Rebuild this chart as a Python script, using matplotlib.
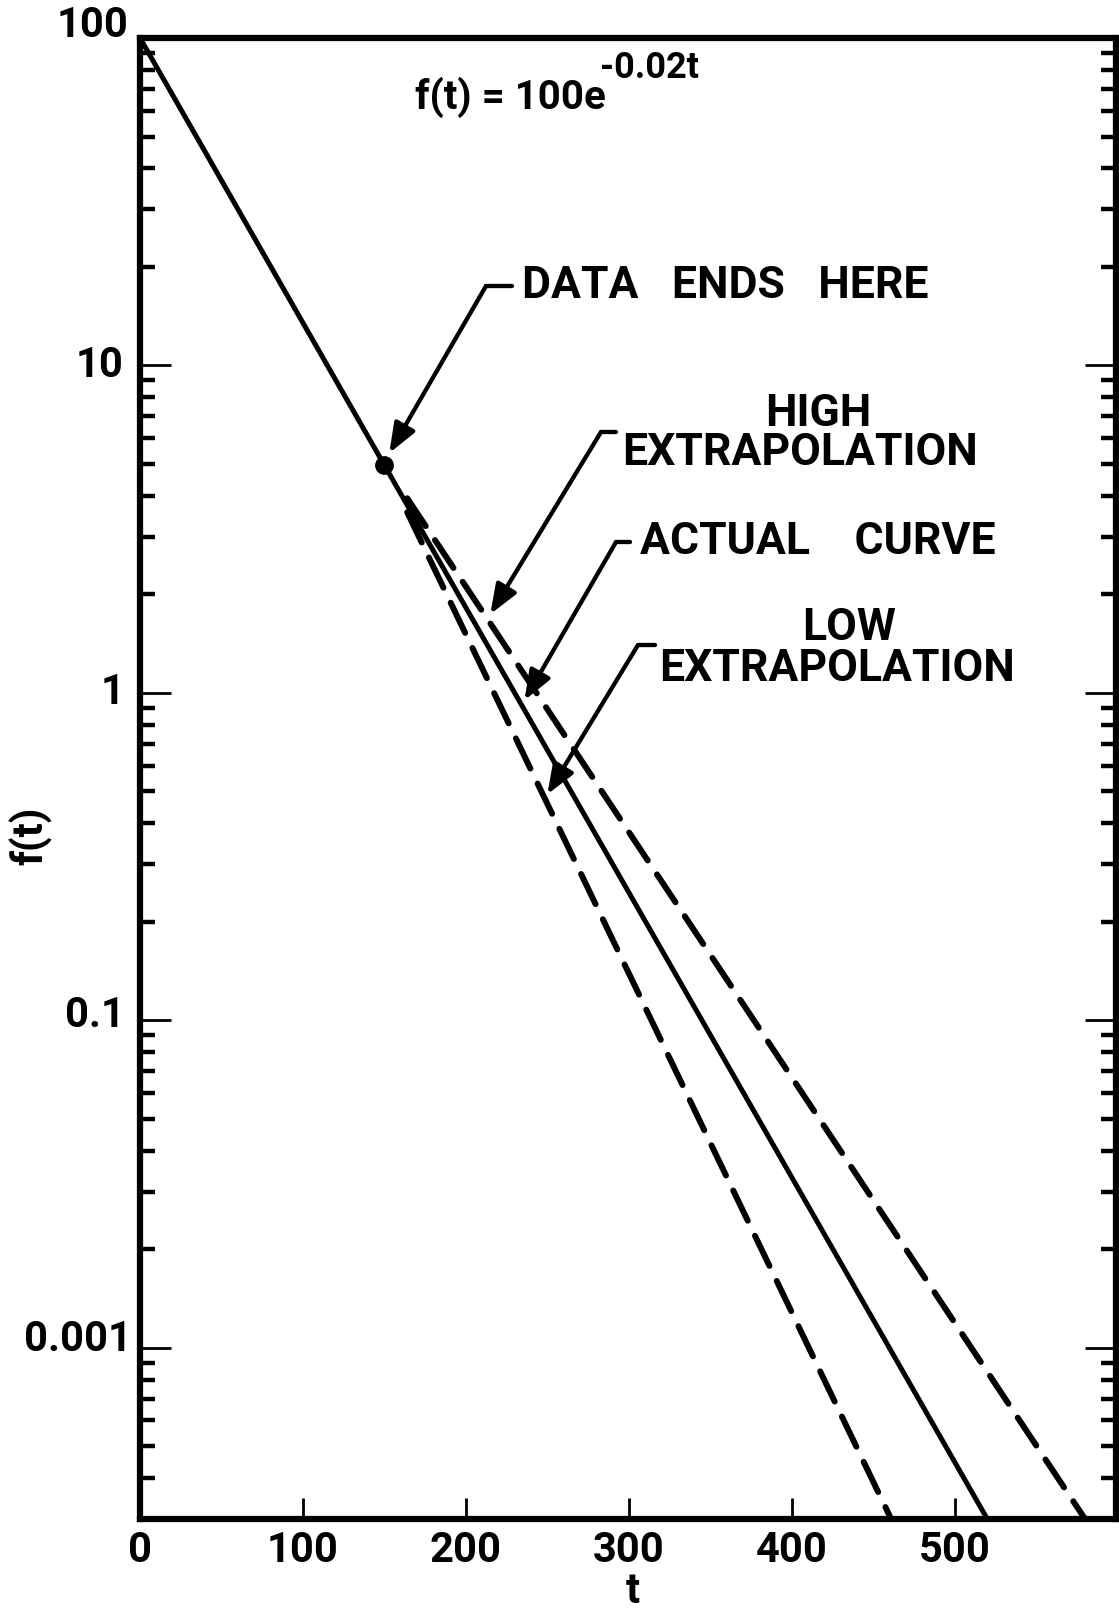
import matplotlib
matplotlib.use("Agg")
import matplotlib.pyplot as plt
from matplotlib.lines import Line2D
from matplotlib.ticker import LogLocator, NullFormatter, NullLocator

plt.rcParams['font.family'] = ['Roboto', 'DejaVu Sans']
plt.rcParams['font.weight'] = 'bold'

W, H = 1119, 1614

# values (straight lines on the semi-log grid)
actual_t = [0, 520]
actual_f = [100, 0.003]
high_t = [164, 580]
high_f = [3.93, 0.003]
low_t = [164, 461]
low_f = [3.56, 0.003]
end_t = [150]
end_f = [4.98]

x_ticks = [0, 100, 200, 300, 400, 500]
y_ticks = [100, 10, 1, 0.1, 0.01]
y_labels = ['100', '10', '1', '0.1', '0.001']   # printed this way on the original

# where the callout arrows point (data coords)
tip_data_end = (153, 5.4)
tip_high = (215, 1.74)
tip_actual = (236, 0.95)
tip_low = (250, 0.49)


def fig_xy(x, y):
    # pixel position in the 1119x1614 image -> figure fraction
    return x / W, 1 - y / H


fig = plt.figure(figsize=(W / 100, H / 100), dpi=100)
ax = fig.add_axes([140 / W, (H - 1519) / H, (1116 - 140) / W, (1519 - 38) / H])
ax.set_yscale('log')
ax.set_xlim(0, 599)
ax.set_ylim(0.003, 100)

# curves
ax.plot(actual_t, actual_f, color='black', lw=3.6, solid_capstyle='butt')
ax.plot(high_t, high_f, color='black', lw=4.3, dashes=(5.6, 2.8), dash_capstyle='round')
ax.plot(low_t, low_f, color='black', lw=4.3, dashes=(5.6, 2.8), dash_capstyle='round')
ax.plot(end_t, end_f, 'o', color='black', ms=12.5)

# frame and ticks
for s in ax.spines.values():
    s.set_linewidth(4.5)
ax.set_xticks(x_ticks)
ax.set_yticks(y_ticks)
ax.set_yticklabels([])
ax.yaxis.set_minor_locator(LogLocator(base=10, subs=range(2, 10), numticks=20))
ax.yaxis.set_minor_formatter(NullFormatter())
ax.xaxis.set_minor_locator(NullLocator())
ax.tick_params(which='both', direction='in', top=False, right=True, labelleft=False)
ax.tick_params(axis='x', which='major', length=15, width=2, pad=8, labelsize=30)
ax.tick_params(axis='y', which='major', length=22, width=2)
ax.tick_params(axis='y', which='minor', length=11, width=3.2)

# y labels drawn by hand so each can sit a little above its tick like the original
ylab_dx = [-8, -12, -11, -11, -6]
ylab_dy = [9, 0, 0, 3.5, 6]
for v, lab, dx, dy in zip(y_ticks, y_labels, ylab_dx, ylab_dy):
    ax.annotate(lab, xy=(0, v), xycoords=ax.get_yaxis_transform(),
                xytext=(dx, dy), textcoords='offset points',
                ha='right', va='center', fontsize=30, fontweight='bold')

fig.text(*fig_xy(31, 836), 'f(t)', rotation=90, ha='center', va='center', fontsize=30)
fig.text(*fig_xy(633, 1612), 't', ha='center', va='bottom', fontsize=30)

# formula
fig.text(*fig_xy(415, 97), 'f(t) = 100e', ha='left', va='center', fontsize=29)
fig.text(*fig_xy(600, 68), '-0.02t', ha='left', va='center', fontsize=26)


def callout(tip, corner, end):
    # short horizontal stroke by the text, then slanted leader with arrow
    x0, y0 = fig_xy(*corner)
    x1, y1 = fig_xy(*end)
    fig.add_artist(Line2D([x0, x1], [y0, y1], color='black', lw=3.1,
                          solid_capstyle='round'))
    ax.annotate('', xy=tip, xycoords='data', xytext=(x0, y0),
                textcoords='figure fraction',
                arrowprops=dict(arrowstyle='-|>,head_length=0.9,head_width=0.35',
                                color='black', lw=3.1, shrinkA=0, shrinkB=0,
                                mutation_scale=20))


callout(tip_data_end, (486, 286), (512, 286))
callout(tip_high, (601, 432), (616, 432))
callout(tip_actual, (616, 542), (630, 542))
callout(tip_low, (638, 645), (655, 645))

fig.text(*fig_xy(522, 286), 'DATA   ENDS   HERE', ha='left', va='center', fontsize=32)
fig.text(*fig_xy(818, 414), 'HIGH', ha='center', va='center', fontsize=32)
fig.text(*fig_xy(622, 453), 'EXTRAPOLATION', ha='left', va='center', fontsize=32)
fig.text(*fig_xy(640, 542), 'ACTUAL    CURVE', ha='left', va='center', fontsize=32)
fig.text(*fig_xy(849, 628), 'LOW', ha='center', va='center', fontsize=32)
fig.text(*fig_xy(659, 669), 'EXTRAPOLATION', ha='left', va='center', fontsize=32)

fig.savefig('out.png', dpi=100)
